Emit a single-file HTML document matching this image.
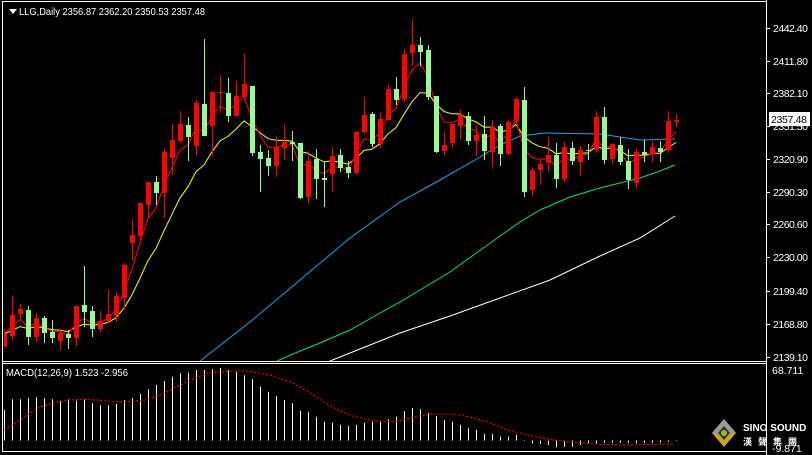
<!DOCTYPE html>
<html><head><meta charset="utf-8"><style>
html,body{margin:0;padding:0;background:#000;width:812px;height:455px;overflow:hidden}
svg{display:block}
text{font-family:"Liberation Sans","Noto Sans CJK TC",sans-serif}
</style></head><body>
<svg id="s" width="812" height="455" xmlns="http://www.w3.org/2000/svg">
<rect width="812" height="455" fill="#000"/>
<g id="g"></g>
</svg>
<script>
var C=[
['r',334,347,329,347],['r',315,336,296,341],['r',309,314,304,319],['g',310,337,306,345],['r',318,337,313,342],
['g',318,333,316,343],['g',332,338,320,343],['r',333,341,329,350],['g',334,338,330,349],['r',306,338,306,346],
['g',305,312,266,327],['g',311,329,306,337],['r',321,329,311,332],['r',314,321,290,323],['r',296,315,292,322],
['r',265,298,263,309],['r',235,243,219,260],['r',203,236,203,241],['r',182,205,182,219],['g',182,193,176,205],
['r',152,193,149,218],['r',140,158,124,175],['r',124,141,111,143],['g',125,137,117,161],['r',103,146,100,155],
['g',104,136,39,136],['r',92,126,92,156],['r',92,93,75,113],['g',93,116,78,122],['r',96,116,81,116],
['r',84,97,54,100],['g',86,153,86,156],['g',152,159,145,192],['g',158,166,150,176],['r',147,166,137,177],
['r',142,148,125,160],['g',142,144,131,161],['g',143,198,143,199],['r',161,197,151,203],['g',159,179,149,199],
['g',178,180,162,207],['r',156,174,147,192],['g',155,168,149,172],['g',167,173,161,178],['r',132,173,131,174],
['r',115,132,97,134],['g',114,144,112,147],['r',119,144,112,148],['r',89,120,84,120],['g',89,100,77,105],
['r',54,99,49,102],['r',45,53,19,66],['g',45,52,37,66],['g',50,97,45,100],['g',96,152,96,153],
['r',145,151,131,155],['r',124,143,124,147],['r',115,126,110,139],['g',116,141,112,145],['r',135,141,126,156],
['g',134,151,116,160],['r',127,152,120,167],['g',126,154,124,166],['r',122,154,120,155],['r',99,121,97,125],
['g',100,192,87,197],['r',170,190,167,196],['r',164,170,160,185],['r',155,163,137,171],['g',155,179,143,188],
['r',147,179,142,182],['g',148,161,142,165],['r',150,162,146,176],['g',150,151,144,160],['r',117,150,111,153],
['g',117,160,107,164],['r',144,159,143,164],['g',145,162,137,165],['g',161,180,149,189],['r',152,183,149,189],
['g',152,155,140,162],['r',147,154,141,162],['g',148,152,141,162],['r',121,150,111,153],['r',120,122,114,127]];
var h='';
function X(k){return 4+8*k;}
function pl(pts,col,w,dash){return '<polyline fill="none" stroke="'+col+'" stroke-width="'+(w||1)+'"'+(dash?' stroke-dasharray="'+dash+'"':'')+' points="'+pts.map(p=>p.join(',')).join(' ')+'"/>';}
h+='<clipPath id="cm"><rect x="4" y="5" width="762" height="356"/></clipPath><g clip-path="url(#cm)">';
h+=pl([[330,361],[360,349],[400,333],[450,316],[500,298],[550,280],[600,256],[640,238],[675,216]],'#fff');
h+=pl([[277,361],[300,351],[320,343],[350,330],[380,313],[400,302],[425,287],[450,272],[475,254],[500,236],[520,222],[540,210],[570,197],[600,188],[640,178],[660,171],[675,165]],'#00e070');
h+=pl([[200,361],[250,322],[300,280],[350,238],[400,202],[440,180],[480,157],[500,145],[520,136],[545,133],[600,134],[640,140],[675,139]],'#1ea0e6');
var cl=C.map(c=>c[0]=='r'?c[1]:c[2]);
function ema(n){var a=2/(n+1),e=cl[0],r=[];cl.forEach((v,i)=>{e=i?e+a*(v-e):v;r.push([X(i),e.toFixed(1)]);});return r;}
h+=pl(ema(10),'#ffff00');
h+=pl(ema(4),'#ff0000');
C.forEach((c,k)=>{var x=X(k),col=c[0]=='r'?'#ff0000':'#98fb98';
h+='<line x1="'+(x+0.5)+'" x2="'+(x+0.5)+'" y1="'+c[3]+'" y2="'+c[4]+'" stroke="'+col+'"/>';
h+='<rect x="'+(x-2)+'" y="'+c[1]+'" width="5" height="'+Math.max(1,c[2]-c[1])+'" fill="'+col+'"/>';});
h+='</g>';
h+='<rect x="2.5" y="1.5" width="808" height="450" fill="none" stroke="#fff"/>';
h+='<line x1="2" x2="767" y1="361.5" y2="361.5" stroke="#fff"/>';
h+='<line x1="2" x2="767" y1="363.5" y2="363.5" stroke="#fff"/>';
h+='<rect x="767" y="0" width="45" height="455" fill="#000"/>';
h+='<line x1="766.5" x2="766.5" y1="0" y2="455" stroke="#fff"/>';
var L=[['2442.40',28],['2411.80',61],['2382.10',93],['2351.50',126],['2320.90',159],['2290.30',192],['2260.60',224],['2230.00',257],['2199.40',291],['2168.80',324],['2139.10',357]];
L.forEach(l=>{h+='<line x1="767" x2="770" y1="'+l[1]+'.5" y2="'+l[1]+'.5" stroke="#fff"/><text x="773" y="'+(l[1]+4)+'" fill="#fff" font-size="10.5" textLength="35">'+l[0]+'</text>';});
h+='<rect x="769" y="112" width="41" height="14" fill="#fff"/><text x="771" y="123" fill="#000" font-size="10.5" textLength="36">2357.48</text>';
h+='<text x="772" y="374" fill="#fff" font-size="10.5">68.711</text>';
h+='<text x="772" y="452" fill="#fff" font-size="10.5">-9.871</text>';
h+='<polygon points="9,9 17,9 13,14" fill="#fff"/>';
h+='<text x="19" y="15" fill="#fff" font-size="10.5" textLength="186" lengthAdjust="spacingAndGlyphs">LLG,Daily  2356.87 2362.20 2350.53 2357.48</text>';
h+='<text x="6" y="376" fill="#fff" font-size="10.5" textLength="122" lengthAdjust="spacingAndGlyphs">MACD(12,26,9) 1.523 -2.956</text>';
var M=[210,178,178,175,172,175,178,182,178,182,178,190,196,196,192,180,175,162,148,135,123,110,100,98,90,90,88,84,90,95,106,118,140,155,168,180,190,212,215,230,245,248,255,258,255,248,245,245,238,230,214,205,208,218,228,240,245,255,265,270,282,282,290,290,285,300,310,312,315,322,320,320,315,310,310,308,308,308,308,310,308,308,308,305,303];
var Z=440.5;
M.forEach((z,k)=>{var y=340+z/3;h+='<line x1="'+(X(k)+0.5)+'" x2="'+(X(k)+0.5)+'" y1="'+Z+'" y2="'+y.toFixed(1)+'" stroke="#fff"/>';});
var S=[[8,270],[40,240],[70,205],[100,190],[130,180],[160,178],[190,180],[220,185],[250,185],[280,180],[310,165],[340,140],[370,120],[400,100],[430,95],[460,92],[480,93],[520,105],[560,125],[600,160],[640,200],[680,228],[720,242],[760,245],[800,232],[830,222],[870,222],[900,228],[940,245],[980,270],[1020,285],[1060,298],[1100,305],[1150,312],[1200,315],[1300,312]].map(p=>[(p[0]/1.931).toFixed(1),(340+p[1]/3).toFixed(1)]);
h+=pl(S,'#ff0000',1,'2,2');
h+='<g transform="translate(724,433)"><polygon points="0,-14 12,0 0,14 -12,0" fill="#c9a51a"/><polygon points="0,-14 12,0 0,2 -12,0" fill="#9a9a9a"/><polygon points="0,-7 6,0 0,7 -6,0" fill="#333"/><circle r="3" fill="#8fc31f"/></g>';
h+='<text x="743" y="431" fill="#fff" font-size="10" font-weight="bold">SINO SOUND</text>';
h+='<text x="743" y="445" fill="#fff" font-size="9" font-weight="bold" letter-spacing="6">漢聲集團</text>';
document.getElementById('g').innerHTML=h;
</script>
</body></html>
